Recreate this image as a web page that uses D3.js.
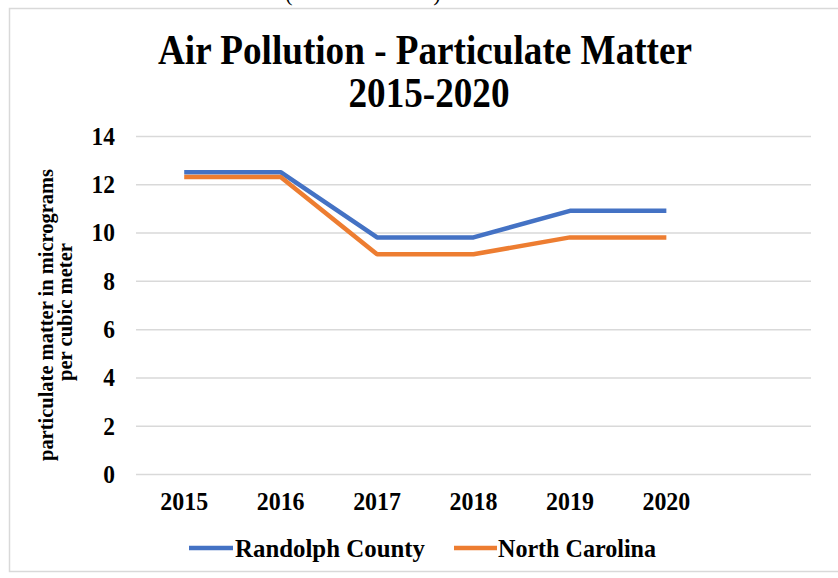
<!DOCTYPE html>
<html>
<head>
<meta charset="utf-8">
<script src="https://cdn.jsdelivr.net/npm/d3@7"></script>
<style>
  html, body { margin: 0; padding: 0; background: #fff; }
  svg { display: block; }
  text { font-family: "Liberation Serif", "Times New Roman", serif; font-weight: bold; fill: #000; }
</style>
</head>
<body>
<svg id="chart" width="838" height="578"></svg>
<script>
const years = ["2015", "2016", "2017", "2018", "2019", "2020"];
const slots = ["2015", "2016", "2017", "2018", "2019", "2020", ""];
const randolph = [12.5, 12.5, 9.8, 9.8, 10.9, 10.9];
const northCarolina = [12.3, 12.3, 9.1, 9.1, 9.8, 9.8];
const yTicks = [0, 2, 4, 6, 8, 10, 12, 14];
const seriesNames = ["Randolph County", "North Carolina"];
const seriesColors = ["#4472C4", "#ED7D31"];
const titleLines = ["Air Pollution - Particulate Matter", "2015-2020"];
const yTitleLines = ["particulate matter in micrograms", "per cubic meter"];

const svg = d3.select("#chart");

// chart frame
svg.append("rect").attr("x", 9.5).attr("y", 8.5).attr("width", 840).attr("height", 563)
  .attr("fill", "#fff").attr("stroke", "#d9d9d9").attr("stroke-width", 1.5);

// cut-off text at very top (partially visible in the reference)
svg.append("text").attr("x", 289).attr("y", 1).attr("text-anchor", "middle")
  .style("font-weight", "normal").style("font-size", "22px").text("(");
svg.append("text").attr("x", 437).attr("y", 1).attr("text-anchor", "middle")
  .style("font-weight", "normal").style("font-size", "22px").text(")");

const plotLeft = 136, plotRight = 811, plotTop = 136, plotBottom = 474;
const x = d3.scaleBand().domain(slots).range([plotLeft, plotRight]);
const y = d3.scaleLinear().domain([0, 14]).range([plotBottom, plotTop]);

// title
svg.append("text").attr("x", 425).attr("y", 64).attr("text-anchor", "middle")
  .style("font-size", "43px").attr("textLength", 534).attr("lengthAdjust", "spacingAndGlyphs")
  .text(titleLines[0]);
svg.append("text").attr("x", 429).attr("y", 107).attr("text-anchor", "middle")
  .style("font-size", "43px").attr("textLength", 161).attr("lengthAdjust", "spacingAndGlyphs")
  .text(titleLines[1]);

function condense(sel, f) {
  sel.each(function () {
    const w = this.getComputedTextLength();
    d3.select(this).attr("textLength", w * f).attr("lengthAdjust", "spacingAndGlyphs");
  });
}

// gridlines + y labels
const yAxis = d3.axisLeft(y).tickValues(yTicks).tickSize(-(plotRight - plotLeft)).tickPadding(21).tickFormat(d3.format("d"));
const gy = svg.append("g").attr("transform", `translate(${plotLeft},0)`).call(yAxis);
gy.select(".domain").remove();
gy.selectAll(".tick line").attr("stroke", "#d9d9d9").attr("stroke-width", 1.5);
gy.selectAll(".tick text").style("font-size", "26px").attr("fill", "#000")
  .style("font-family", "'Liberation Serif', serif").style("font-weight", "bold")
  .call(condense, 0.9);

// x axis labels
const xAxis = d3.axisBottom(x).tickValues(years).tickSize(0).tickPadding(18);
const gx = svg.append("g").attr("transform", `translate(0,${plotBottom})`).call(xAxis);
gx.select(".domain").remove();
gx.selectAll(".tick text").style("font-size", "26px").attr("fill", "#000")
  .style("font-family", "'Liberation Serif', serif").style("font-weight", "bold")
  .call(condense, 0.92);

// y axis title
const yt = svg.append("g").attr("transform", "translate(0,315) rotate(-90)");
yt.append("text").attr("x", 0).attr("y", 53).attr("text-anchor", "middle")
  .style("font-size", "21px").attr("textLength", 292).attr("lengthAdjust", "spacingAndGlyphs")
  .text(yTitleLines[0]);
yt.append("text").attr("x", 3).attr("y", 72).attr("text-anchor", "middle")
  .style("font-size", "21px").attr("textLength", 138).attr("lengthAdjust", "spacingAndGlyphs")
  .text(yTitleLines[1]);

// lines
const line = d3.line().x((d, i) => x(years[i]) + x.bandwidth() / 2).y(d => y(d));
[randolph, northCarolina].forEach((s, k) => {
  svg.append("path").datum(s).attr("d", line).attr("fill", "none")
    .attr("stroke", seriesColors[k]).attr("stroke-width", 4.5)
    .attr("stroke-linejoin", "round");
});

// legend
const legendItems = [
  { x1: 189, x2: 233, tx: 235, tl: 190 },
  { x1: 454, x2: 497, tx: 498, tl: 158 }
];
legendItems.forEach((it, k) => {
  svg.append("line").attr("x1", it.x1).attr("x2", it.x2).attr("y1", 548).attr("y2", 548)
    .attr("stroke", seriesColors[k]).attr("stroke-width", 4.5);
  svg.append("text").attr("x", it.tx).attr("y", 557)
    .style("font-size", "25px").attr("textLength", it.tl).attr("lengthAdjust", "spacingAndGlyphs")
    .text(seriesNames[k]);
});
</script>
</body>
</html>
